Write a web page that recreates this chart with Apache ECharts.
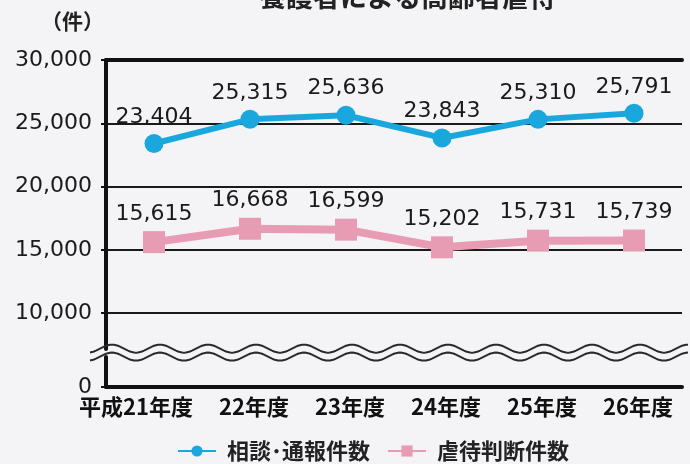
<!DOCTYPE html>
<html><head><meta charset="utf-8">
<script src="https://cdn.jsdelivr.net/npm/echarts@6/dist/echarts.min.js"></script>
<style>html,body{margin:0;padding:0;background:#f4f4f6}#c{width:690px;height:464px}</style>
</head><body><div id="c"></div>
<script>
const chartTitle = '養護者による高齢者虐待';
const unitLabel = '（件）';
const categories = ['平成21年度', '22年度', '23年度', '24年度', '25年度', '26年度'];
const seriesNames = ['相談･通報件数', '虐待判断件数'];
const consultations = [23404, 25315, 25636, 23843, 25310, 25791];
const abuseConfirmed = [15615, 16668, 16599, 15202, 15731, 15739];
const yTickLabels = [0, 10000, 15000, 20000, 25000, 30000];
const axisBreak = { start: 2400, end: 7200, gap: 630 };

const gridLeft = 106, gridRight = 8, gridTop = 60, gridBottom = 77;
const numFont = 'DejaVu Sans';
const cjkFont = 'Noto Sans CJK JP';
const fmt = v => Number(v).toLocaleString('en-US');

// first (long) category label is shifted left, as in the original
const categoryData = categories.map((c, i) => i === 0
  ? { value: c, textStyle: { padding: [0, 36, 0, 0] } }
  : { value: c, textStyle: { padding: [0, 0, 0, 8] } });

const chart = echarts.init(document.getElementById('c'), null, { renderer: 'canvas' });
chart.setOption({
  backgroundColor: '#f4f4f6',
  animation: false,
  title: {
    text: chartTitle, left: 254, top: -22,
    textStyle: { fontSize: 27, fontWeight: 'bold', color: '#222', fontFamily: cjkFont }
  },
  grid: { left: gridLeft, right: gridRight, top: gridTop, bottom: gridBottom },
  legend: {
    data: seriesNames, left: 172, top: 435,
    itemWidth: 38, itemHeight: 14, itemGap: 17,
    textStyle: { fontSize: 22, fontWeight: 'bold', color: '#222', fontFamily: cjkFont, padding: [0, 0, 0, 6] }
  },
  xAxis: [{
    type: 'category', data: categoryData, boundaryGap: true,
    axisLine: { lineStyle: { color: '#111', width: 4 } },
    axisTick: { show: false },
    axisLabel: { interval: 0, fontSize: 22, fontWeight: 'bold', color: '#111', fontFamily: cjkFont, margin: 9 }
  }, {
    type: 'category', data: categories, position: 'top',
    axisLine: { lineStyle: { color: '#111', width: 4 } },
    axisTick: { show: false }, axisLabel: { show: false }
  }],
  yAxis: {
    type: 'value', min: 0, max: 30000,
    name: unitLabel, nameLocation: 'end', nameGap: 39,
    nameTextStyle: { fontSize: 21, fontWeight: 'bold', color: '#222', fontFamily: cjkFont,
      align: 'right', verticalAlign: 'middle', padding: [0, 2, 0, 0] },
    breaks: [{ start: axisBreak.start, end: axisBreak.end, gap: axisBreak.gap }],
    breakArea: {
      itemStyle: { color: 'rgba(0,0,0,0)', borderColor: 'rgba(0,0,0,0)', borderWidth: 0 },
      zigzagAmplitude: 0
    },
    axisLine: { show: true, lineStyle: { color: '#111', width: 4 } },
    axisTick: { show: true, length: 5, customValues: yTickLabels, lineStyle: { color: '#111', width: 2 } },
    axisLabel: {
      fontSize: 22, color: '#1a1a1a', fontFamily: numFont, margin: 14,
      customValues: yTickLabels, hideOverlap: false,
      formatter: v => fmt(v)
    },
    splitLine: { show: true, lineStyle: { color: '#1a1a1a', width: 2 } }
  },
  series: [{
    name: seriesNames[0], type: 'line', data: consultations,
    symbol: 'circle', symbolSize: 19,
    lineStyle: { color: '#1aa7dd', width: 6 },
    itemStyle: { color: '#1aa7dd' },
    label: { show: true, position: 'top', distance: 6, fontSize: 22, color: '#1a1a1a',
      fontFamily: numFont, formatter: p => fmt(p.value) },
    z: 5
  }, {
    name: seriesNames[1], type: 'line', data: abuseConfirmed,
    symbol: 'rect', symbolSize: 22,
    lineStyle: { color: '#e89cb4', width: 8 },
    itemStyle: { color: '#e89cb4' },
    label: { show: true, position: 'top', distance: 6, fontSize: 22, color: '#1a1a1a',
      fontFamily: numFont, formatter: p => fmt(p.value) },
    z: 4
  }]
});

// wavy double break line derived from the axis break position
const yUpper = chart.convertToPixel({ yAxisIndex: 0 }, axisBreak.end);
const yLower = chart.convertToPixel({ yAxisIndex: 0 }, axisBreak.start);
function wave(yc) {
  const pts = [];
  for (let x = gridLeft - 16; x <= 688; x += 2) {
    pts.push([x, yc + 4 * Math.sin(2 * Math.PI * (x - gridLeft + 30) / 48)]);
  }
  return pts;
}
chart.setOption({
  graphic: [
    { type: 'polyline', shape: { points: wave(yUpper) }, style: { stroke: '#2a2a2a', lineWidth: 2, fill: null }, z: 10 },
    { type: 'polyline', shape: { points: wave(yLower) }, style: { stroke: '#2a2a2a', lineWidth: 2, fill: null }, z: 10 }
  ]
});
</script></body></html>
